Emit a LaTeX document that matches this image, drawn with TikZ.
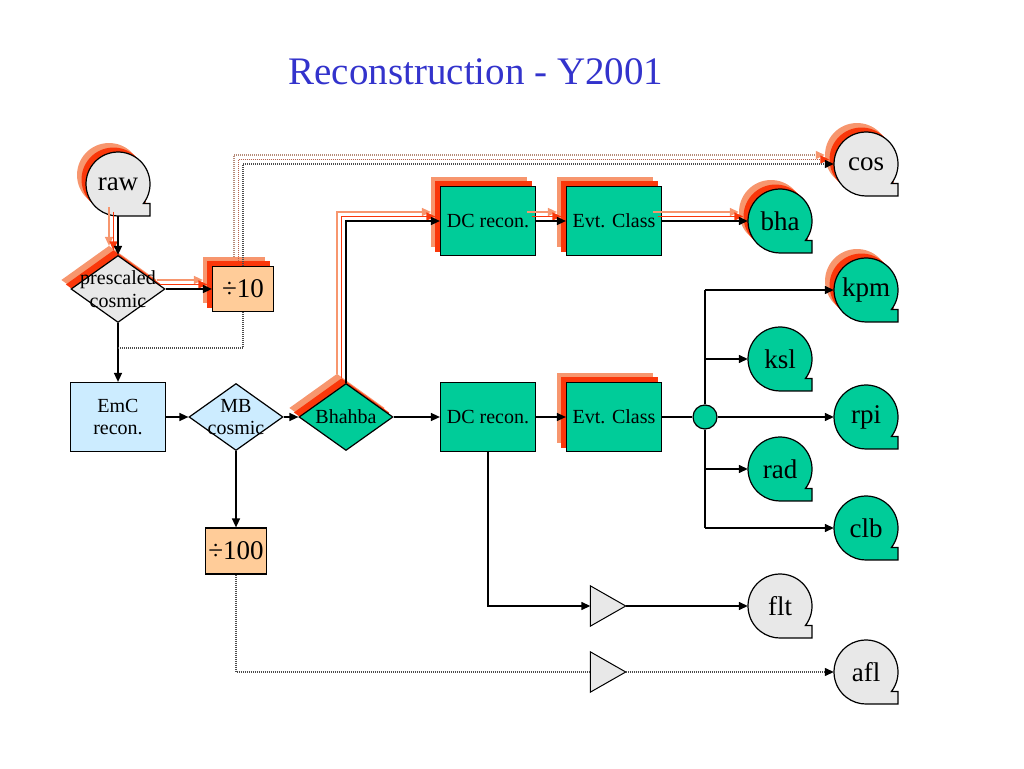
\documentclass[tikz,border=0pt]{standalone}
\usepackage{fontspec}
\setmainfont{Liberation Serif}
\usetikzlibrary{arrows.meta, shapes.geometric}

\definecolor{salm}{RGB}{247,150,110}
\definecolor{redo}{RGB}{250,55,10}
\definecolor{greyf}{RGB}{232,232,232}
\definecolor{sea}{RGB}{0,204,153}
\definecolor{skyb}{RGB}{204,236,255}
\definecolor{peach}{RGB}{255,204,153}
\definecolor{headblue}{RGB}{51,51,204}

\newcommand{\boxfont}{\fontsize{20}{22.5}\selectfont}
\newcommand{\tapefont}{\fontsize{27}{30}\selectfont}
\newcommand{\headfont}{\fontsize{39}{44}\selectfont}
\newcommand{\tapeshape}[2]{\filldraw[#2] (#1) ++(0,-32) -- ++(32,0) -- ++(0,12.5) -- ++(-6.6,0) arc[start angle=-37.5, end angle=270, radius=32pt] -- cycle;}

\pgfdeclarelayer{back}
\pgfdeclarelayer{mid}
\pgfsetlayers{back,mid,main}

\begin{document}
\begin{tikzpicture}[x=1pt, y=1pt,
    block/.style={rectangle, draw=black, line width=1.2pt, minimum width=95pt, minimum height=69pt, inner sep=0pt, align=center, font=\boxfont},
    ratio/.style={rectangle, draw=black, line width=1.2pt, fill=peach, minimum width=61pt, minimum height=45pt, inner sep=0pt, font=\tapefont},
    dec/.style={diamond, draw=black, line width=1.2pt, minimum width=94pt, minimum height=67pt, inner sep=0pt},
    boxtext/.style={align=center, font=\boxfont, inner sep=0pt},
    tape/.style={circle, minimum size=64pt, inner sep=0pt, font=\tapefont},
    hub/.style={circle, draw=black, line width=1.2pt, fill=sea, minimum size=24pt, inner sep=0pt},
    amp/.style={rectangle, minimum width=35pt, minimum height=40pt, inner sep=0pt},
    link/.style={line width=1.4pt, -{Triangle[length=9pt, width=8pt]}},
    dotline/.style={line width=1.3pt, draw=black!70, dash pattern=on 1pt off 1pt},
    dotlink/.style={dotline, -{Triangle[length=9pt, width=8pt, color=black]}},
    echo/.style={draw=#1, line width=1.5pt, -{Triangle[length=9pt, width=8pt]}},
    echodot/.style={draw=#1!45!gray, line width=1.2pt, dash pattern=on 1pt off 1pt, -{Triangle[length=9pt, width=8pt, color=#1]}}]

    \useasboundingbox (0,0) rectangle (1024,768);

    \node[font=\headfont, text=headblue] (title) at (476,696) {Reconstruction - Y2001};

    \node[tape] (raw) at (118,584) {raw};
    \node[dec, fill=greyf] (pres) at (118,479) {};
    \node[boxtext] (prestext) at (pres) {prescaled\\cosmic};
    \node[ratio] (div10) at (243,479) {÷10};
    \coordinate (joinpt) at (118,420);
    \node[block, fill=skyb] (emc) at (118,351) {EmC\\recon.};
    \node[dec, fill=skyb] (mbc) at (236,351) {};
    \node[boxtext] (mbctext) at (mbc) {MB\\cosmic};
    \node[dec, fill=sea] (bhb) at (346,351) {};
    \node[boxtext] (bhbtext) at (bhb) {Bhahba};
    \node[ratio, minimum height=46pt] (div100) at (236,217) {÷100};
    \node[block, fill=sea] (dcl) at (488,351) {DC recon.};
    \node[block, fill=sea] (evl) at (614,351) {Evt. Class};
    \node[hub] (jun) at (705,351) {};
    \node[block, fill=sea] (dcu) at (488,547) {DC recon.};
    \node[block, fill=sea] (evu) at (614,547) {Evt. Class};

    \node[tape] (cos) at (866,604) {cos};
    \node[tape] (bha) at (780,547) {bha};
    \node[tape] (kpm) at (866,478) {kpm};
    \node[tape] (ksl) at (780,409) {ksl};
    \node[tape] (rpi) at (866,351) {rpi};
    \node[tape] (rad) at (780,299) {rad};
    \node[tape] (clb) at (866,240) {clb};
    \node[tape] (flt) at (780,162) {flt};
    \node[tape] (afl) at (866,96) {afl};

    \node[amp] (trf) at (608,162) {};
    \node[amp] (tra) at (608,96) {};
    \foreach \t in {trf,tra} {
        \filldraw[fill=greyf, line width=1pt] (\t.north west) -- (\t.east) -- (\t.south west) -- cycle;
    }

    \begin{pgfonlayer}{mid}
        \foreach \n/\c in {raw/greyf, cos/greyf, flt/greyf, afl/greyf, bha/sea, kpm/sea, ksl/sea, rpi/sea, rad/sea, clb/sea} {
            \tapeshape{\n.center}{fill=\c, draw=black, line width=1.2pt}
        }
    \end{pgfonlayer}

    \begin{pgfonlayer}{back}
        \foreach \dx/\dy/\col in {-9/9/salm, -4.5/4.5/redo} {
            \foreach \n in {raw,cos,bha,kpm} {
                \tapeshape{[shift={(\dx,\dy)}]\n.center}{fill=\col, draw=none}
            }
            \foreach \n in {div10,dcu,evu,evl} {
                \fill[\col] ([shift={(\dx,\dy)}]\n.south west) rectangle ([shift={(\dx,\dy)}]\n.north east);
            }
            \foreach \n in {pres,bhb} {
                \fill[\col] ([shift={(\dx,\dy)}]\n.north) -- ([shift={(\dx,\dy)}]\n.east) -- ([shift={(\dx,\dy)}]\n.south) -- ([shift={(\dx,\dy)}]\n.west) -- cycle;
            }
        }
    \end{pgfonlayer}

    \foreach \dx/\dy/\col in {-9/9/salm, -4.5/4.5/redo} {
        \draw[echo=\col] ([shift={(\dx,\dy)}]raw.south) -- ([shift={(\dx,\dy)}]pres.north);
        \draw[echo=\col] ([shift={(\dx,\dy)}]pres.east) -- ([shift={(\dx,\dy)}]div10.west);
        \draw[echo=\col] ([shift={(\dx,\dy)}]bhb.north) |- ([shift={(\dx,\dy)}]dcu.west);
        \draw[echo=\col] ([shift={(\dx,\dy)}]dcu.east) -- ([shift={(\dx,\dy)}]evu.west);
        \draw[echo=\col] ([shift={(\dx,\dy)}]evu.east) -- ([shift={(\dx,\dy)}]bha.west);
        \draw[echodot=\col] ([shift={(\dx,\dy)}]div10.north) |- ([shift={(\dx,\dy)}]cos.west);
    }

    \draw[link] (raw) -- (pres);
    \draw[link] (pres) -- (div10);
    \draw[link] (pres) -- (emc);
    \draw[dotlink] (div10.north) |- (cos.west);
    \draw[dotline] (div10.south) |- (joinpt);
    \draw[link] (emc) -- (mbc);
    \draw[link] (mbc) -- (bhb);
    \draw[link] (mbc) -- (div100);
    \draw[link] (bhb) -- (dcl);
    \draw[link] (bhb.north) |- (dcu.west);
    \draw[link] (dcu) -- (evu);
    \draw[link] (evu) -- (bha);
    \draw[link] (dcl) -- (evl);
    \draw[line width=1.4pt] (evl) -- (jun);
    \draw[line width=1.4pt] (jun.north) -- (jun |- kpm) (jun.south) -- (jun |- clb);
    \draw[link] (jun |- kpm) -- (kpm);
    \draw[link] (jun |- ksl) -- (ksl);
    \draw[link] (jun) -- (rpi);
    \draw[link] (jun |- rad) -- (rad);
    \draw[link] (jun |- clb) -- (clb);
    \draw[link] (dcl.south) |- (trf.west);
    \draw[link] (trf.east) -- (flt);
    \draw[dotline] (div100.south) |- (tra.west);
    \draw[dotlink] (tra.east) -- (afl);
\end{tikzpicture}
\end{document}
